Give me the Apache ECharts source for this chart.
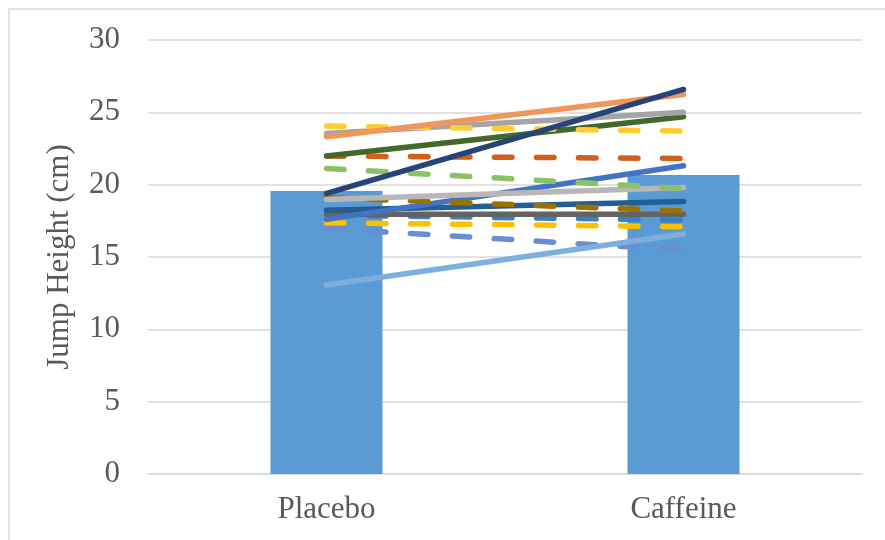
<!DOCTYPE html>
<html>
<head>
<meta charset="utf-8">
<script src="https://cdn.jsdelivr.net/npm/echarts@6/dist/echarts.min.js"></script>
<style>
html,body{margin:0;padding:0;background:#fff;}
#c{width:885px;height:540px;}
</style>
</head>
<body>
<div id="c"></div>
<script>
var categories = ['Placebo', 'Caffeine'];
var meanValues = [19.56, 20.66];
var yTicks = [0, 5, 10, 15, 20, 25, 30];

// individual participants: [placebo, caffeine]
var p01 = [16.98, 15.48]; // light blue dashed
var p02 = [17.37, 17.09]; // gold dashed
var p03 = [17.90, 17.55]; // mid blue dashed
var p04 = [17.95, 17.95]; // dark gray solid
var p05 = [18.24, 18.83]; // steel blue solid
var p06 = [17.60, 21.31]; // blue solid
var p07 = [19.10, 18.18]; // brown dashed
var p08 = [18.98, 19.81]; // light gray solid
var p09 = [21.12, 19.74]; // light green dashed
var p10 = [21.98, 21.81]; // orange dashed
var p11 = [21.98, 24.70]; // dark green solid
var p12 = [23.54, 25.00]; // gray solid
var p13 = [24.05, 23.70]; // yellow dashed
var p14 = [23.31, 26.24]; // orange solid
var p15 = [19.40, 26.58]; // navy solid
var p16 = [13.06, 16.59]; // light blue solid

var participants = [
  {d: p01, c: '#6A8FD0', dash: true},
  {d: p02, c: '#FFC000', dash: true},
  {d: p03, c: '#3580C6', dash: true},
  {d: p04, c: '#636363', dash: false},
  {d: p05, c: '#255E91', dash: false},
  {d: p06, c: '#4472C4', dash: false},
  {d: p07, c: '#997300', dash: true},
  {d: p08, c: '#B7B7B7', dash: false},
  {d: p09, c: '#8CC168', dash: true},
  {d: p10, c: '#D0601A', dash: true},
  {d: p11, c: '#43682B', dash: false},
  {d: p12, c: '#A5A5A5', dash: false},
  {d: p13, c: '#FFCD33', dash: true},
  {d: p14, c: '#F1975A', dash: false},
  {d: p15, c: '#264478', dash: false},
  {d: p16, c: '#7CAFDD', dash: false}
];

var font = '"Liberation Serif", "Times New Roman", serif';
var series = [{
  type: 'bar',
  data: meanValues,
  barWidth: 112,
  itemStyle: {color: '#5B9BD5'},
  z: 1
}];
participants.forEach(function (p, i) {
  series.push({
    type: 'line',
    data: p.d,
    symbol: 'none',
    z: 2 + i,
    lineStyle: {
      color: p.c,
      width: 5.5,
      cap: 'round',
      type: p.dash ? [17.5, 24.5] : 'solid'
    },
    emphasis: {disabled: true}
  });
});

var chart = echarts.init(document.getElementById('c'));
chart.setOption({
  animation: false,
  backgroundColor: '#fff',
  graphic: [{
    type: 'rect',
    shape: {x: 9, y: 9, width: 920, height: 600},
    style: {fill: 'none', stroke: '#D9D9D9', lineWidth: 1.5},
    silent: true,
    z: -1
  }],
  grid: {left: 148, right: 23, top: 40, bottom: 66, containLabel: false},
  xAxis: {
    type: 'category',
    data: categories,
    axisLine: {lineStyle: {color: '#D9D9D9', width: 1.5}},
    axisTick: {show: false},
    axisLabel: {color: '#595959', fontFamily: font, fontSize: 31, margin: 20}
  },
  yAxis: {
    type: 'value',
    min: 0, max: 30, interval: 5,
    name: 'Jump Height (cm)',
    nameLocation: 'middle',
    nameRotate: 90,
    nameGap: 73,
    nameTextStyle: {color: '#595959', fontFamily: font, fontSize: 31},
    axisLine: {show: false},
    axisTick: {show: false},
    splitLine: {lineStyle: {color: '#D9D9D9', width: 1.5}},
    axisLabel: {
      color: '#595959', fontFamily: font, fontSize: 31, margin: 28,
      formatter: function (v) { return yTicks.indexOf(v) >= 0 ? String(v) : ''; }
    }
  },
  series: series
});
</script>
</body>
</html>
